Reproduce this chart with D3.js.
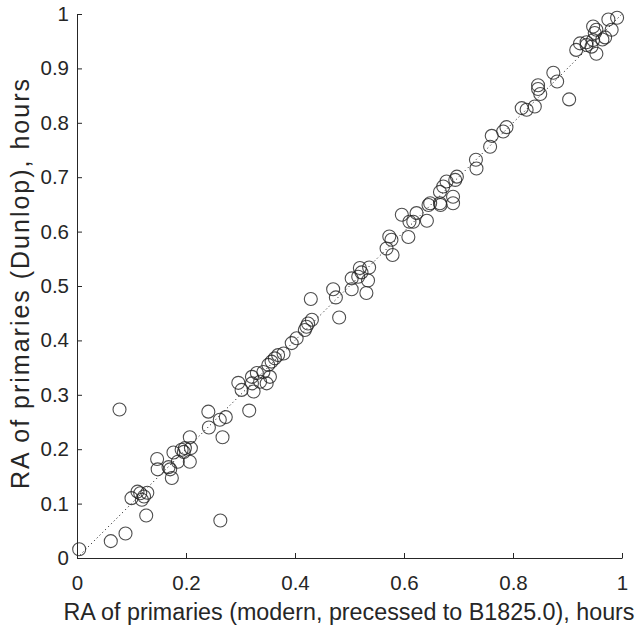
<!DOCTYPE html>
<html>
<head>
<meta charset="utf-8">
<script src="https://cdn.jsdelivr.net/npm/d3@7"></script>
<style>
  body { margin: 0; background: #fff; }
  text { font-family: "Liberation Sans", Arial, sans-serif; }
</style>
</head>
<body>
<div id="chart"></div>
<script>
// RA (hours): modern (precessed) vs Dunlop
const raModern = [
  0.004, 0.062, 0.089, 0.078, 0.263, 0.127,
  0.100, 0.116, 0.119, 0.129, 0.111, 0.123,
  0.147, 0.148, 0.171, 0.174, 0.168, 0.177, 0.185, 0.192, 0.198, 0.196, 0.207, 0.209, 0.207,
  0.241, 0.242, 0.262, 0.273, 0.267, 0.316, 0.296, 0.302, 0.321, 0.324,
  0.321, 0.330, 0.342, 0.351, 0.357, 0.363, 0.369, 0.379, 0.348, 0.354, 0.336,
  0.394, 0.403, 0.418, 0.421, 0.424, 0.431, 0.429, 0.481, 0.470, 0.475,
  0.504, 0.504, 0.516, 0.519, 0.522, 0.536, 0.534, 0.531,
  0.568, 0.573, 0.577, 0.579, 0.608, 0.596, 0.610, 0.617, 0.623, 0.642, 0.645, 0.648, 0.667, 0.666,
  0.672, 0.678, 0.697, 0.694, 0.690, 0.666, 0.690,
  0.732, 0.733, 0.758, 0.761, 0.782, 0.788,
  0.816, 0.825, 0.840, 0.846, 0.850, 0.846, 0.874, 0.881, 0.903,
  0.916, 0.923, 0.935, 0.944, 0.953, 0.947, 0.950, 0.947, 0.953, 0.964, 0.969, 0.981, 0.975, 0.991, 0.935
];
const raDunlop = [
  0.016, 0.031, 0.045, 0.273, 0.069, 0.078,
  0.110, 0.119, 0.107, 0.120, 0.122, 0.113,
  0.182, 0.163, 0.163, 0.147, 0.167, 0.194, 0.177, 0.199, 0.202, 0.195, 0.222, 0.202, 0.177,
  0.269, 0.240, 0.254, 0.259, 0.222, 0.271, 0.322, 0.309, 0.321, 0.306,
  0.333, 0.340, 0.342, 0.355, 0.361, 0.367, 0.373, 0.376, 0.321, 0.333, 0.324,
  0.395, 0.404, 0.419, 0.425, 0.431, 0.438, 0.476, 0.442, 0.494, 0.479,
  0.494, 0.514, 0.517, 0.533, 0.525, 0.534, 0.510, 0.487,
  0.569, 0.591, 0.585, 0.557, 0.590, 0.631, 0.618, 0.618, 0.634, 0.620, 0.649, 0.652, 0.649, 0.673,
  0.683, 0.692, 0.701, 0.695, 0.664, 0.652, 0.652,
  0.732, 0.716, 0.756, 0.776, 0.784, 0.792,
  0.827, 0.824, 0.830, 0.862, 0.853, 0.869, 0.892, 0.876, 0.843,
  0.934, 0.946, 0.943, 0.940, 0.927, 0.952, 0.965, 0.977, 0.971, 0.953, 0.957, 0.971, 0.990, 0.993, 0.948
];
const xTicks = [0, 0.2, 0.4, 0.6, 0.8, 1];
const yTicks = [0, 0.1, 0.2, 0.3, 0.4, 0.5, 0.6, 0.7, 0.8, 0.9, 1];

const W = 636, H = 628;
const margin = {top: 14, right: 14, bottom: 70, left: 77};
const gw = W - margin.left - margin.right;
const gh = H - margin.top - margin.bottom;

const svg = d3.select("#chart").append("svg")
  .attr("width", W).attr("height", H);
const g = svg.append("g")
  .attr("transform", "translate(" + margin.left + "," + margin.top + ")");

const x = d3.scaleLinear().domain([0, 1]).range([0, gw]);
const y = d3.scaleLinear().domain([0, 1]).range([gh, 0]);

// 1:1 line
g.append("line")
  .attr("x1", x(0)).attr("y1", y(0))
  .attr("x2", x(1)).attr("y2", y(1))
  .attr("stroke", "#000").attr("stroke-width", 1)
  .attr("stroke-dasharray", "1,3");

const pts = raModern.map((v, i) => ({x: v, y: raDunlop[i]}));
g.selectAll("circle.pt").data(pts).enter().append("circle")
  .attr("class", "pt")
  .attr("cx", d => x(d.x)).attr("cy", d => y(d.y))
  .attr("r", 6.5)
  .attr("fill", "none")
  .attr("stroke", "#222").attr("stroke-opacity", 0.8).attr("stroke-width", 1.1);

// axes, ticks pointing inward
const xAxis = g.append("g").attr("transform", "translate(0," + gh + ")")
  .call(d3.axisBottom(x).tickValues(xTicks).tickSizeInner(-5).tickSizeOuter(0)
    .tickPadding(17).tickFormat(d3.format("")));
const yAxis = g.append("g")
  .call(d3.axisLeft(y).tickValues(yTicks).tickSizeInner(-5).tickSizeOuter(0)
    .tickPadding(8).tickFormat(d3.format("")));

[xAxis, yAxis].forEach(a => {
  a.select(".domain").attr("stroke", "#262626");
  a.selectAll(".tick line").attr("stroke", "#262626");
  a.selectAll(".tick text").attr("fill", "#262626")
    .style("font-size", "20.5px").style("font-family", "Liberation Sans, Arial, sans-serif");
});

svg.append("text")
  .attr("x", 349).attr("y", 620)
  .attr("text-anchor", "middle").attr("fill", "#262626")
  .style("font-size", "23.3px")
  .text("RA of primaries (modern, precessed to B1825.0), hours");

svg.append("text")
  .attr("transform", "translate(29,284) rotate(-90)")
  .attr("text-anchor", "middle").attr("fill", "#262626")
  .attr("textLength", 410).attr("lengthAdjust", "spacing")
  .style("font-size", "25px")
  .text("RA of primaries (Dunlop), hours");
</script>
</body>
</html>
